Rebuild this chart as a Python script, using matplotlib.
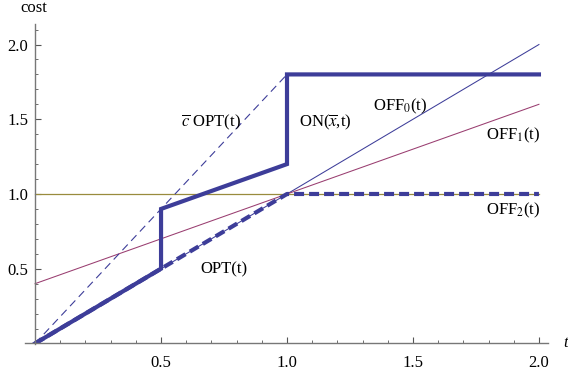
import matplotlib
matplotlib.use("Agg")
import matplotlib.pyplot as plt
from matplotlib.ticker import MultipleLocator, FormatStrFormatter

plt.rcParams['font.family'] = ['Liberation Serif', 'DejaVu Serif']
plt.rcParams['mathtext.fontset'] = 'stix'

# Daten
off0_t = [0.0, 2.0]
off0_y = [0.0, 2.0]
off1_t = [0.0, 2.0]
off1_y = [0.4, 1.6]
off2_t = [0.0, 2.0]
off2_y = [1.0, 1.0]
cbar_t = [0.0, 1.0]
cbar_y = [0.0, 1.8]
opt_t = [0.0, 1.0, 2.0]
opt_y = [0.0, 1.0, 1.0]
on_t = [0.0, 0.5, 0.5, 1.0, 1.0, 2.0]
on_y = [0.0, 0.5, 0.9, 1.2, 1.8, 1.8]

c_blue = '#3d3d99'
c_purple = '#993d70'
c_olive = '#998b3d'

fig = plt.figure(figsize=(5.68, 3.76), dpi=100)
ax = fig.add_axes([25/568, 31.8/376, 523/568, 320.6/376])

ax.plot(off0_t, off0_y, color=c_blue, lw=0.75)
ax.plot(off1_t, off1_y, color=c_purple, lw=0.75)
ax.plot(off2_t, off2_y, color=c_olive, lw=0.9)
ax.plot(cbar_t, cbar_y, color=c_blue, lw=0.8, dashes=(7, 4.5))
ax.plot(opt_t, opt_y, color=c_blue, lw=3, dashes=(2.4, 1.2))
ax.plot(on_t, on_y, color=c_blue, lw=3, solid_joinstyle='miter')

ax.set_xlim(-0.04, 2.036)
ax.set_ylim(-0.005, 2.14)

# Achsen im Ursprung
for s in ['top', 'right']:
    ax.spines[s].set_visible(False)
ax.spines['left'].set_position(('data', 0))
ax.spines['bottom'].set_position(('data', 0))
for s in ['left', 'bottom']:
    ax.spines[s].set_color('#777777')
    ax.spines[s].set_linewidth(1.0)

ax.xaxis.set_major_locator(MultipleLocator(0.5))
ax.xaxis.set_minor_locator(MultipleLocator(0.1))
ax.yaxis.set_major_locator(MultipleLocator(0.5))
ax.yaxis.set_minor_locator(MultipleLocator(0.1))
ax.xaxis.set_major_formatter(FormatStrFormatter('%.1f'))
ax.yaxis.set_major_formatter(FormatStrFormatter('%.1f'))
ax.set_xticks([0.5, 1.0, 1.5, 2.0])
ax.set_yticks([0.5, 1.0, 1.5, 2.0])
ax.tick_params(which='both', direction='in', color='#555555', labelsize=12)
ax.tick_params(which='major', length=4.5, width=0.8)
ax.tick_params(which='minor', length=2.5, width=0.6)
ax.tick_params(axis='x', pad=8)
ax.tick_params(axis='y', pad=5)

# Beschriftung
fs = 12
ax.text(0.698, 1.482, r'$\overline{c}$ OPT(t)', fontsize=fs, ha='center', va='center')
ax.text(1.151, 1.482, r'ON($\overline{x}$,t)', fontsize=fs, ha='center', va='center')
ax.text(1.448, 1.589, r'OFF$_0$(t)', fontsize=fs, ha='center', va='center')
ax.text(1.897, 1.395, r'OFF$_1$(t)', fontsize=fs, ha='center', va='center')
ax.text(1.897, 0.893, r'OFF$_2$(t)', fontsize=fs, ha='center', va='center')
ax.text(0.75, 0.498, 'OPT(t)', fontsize=fs, ha='center', va='center')
ax.text(-0.004, 2.244, 'cost', fontsize=fs, ha='center', va='center', clip_on=False)
ax.text(2.107, 0.0, 't', fontsize=fs, style='italic', ha='center', va='center', clip_on=False)

plt.savefig('out.png', dpi=100)
